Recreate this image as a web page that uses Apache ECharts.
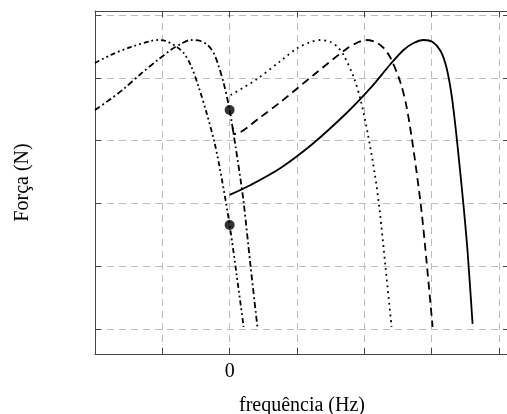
<!DOCTYPE html>
<html>
<head>
<meta charset="utf-8">
<script src="https://cdn.jsdelivr.net/npm/echarts@6/dist/echarts.min.js"></script>
<style>
html,body{margin:0;padding:0;background:#fff;}
#chart{width:507px;height:414px;}
</style>
</head>
<body>
<div id="chart"></div>
<script>
// ---- data (x in Hz units relative to grid, y in force units) ----
const solidX = [0, 0.312, 0.757, 1.248, 1.753, 2.094, 2.391, 2.584, 2.733, 2.881, 3.015, 3.134, 3.223, 3.297, 3.357, 3.416, 3.475, 3.535, 3.609];
const solidY = [2.134, 2.293, 2.564, 2.962, 3.455, 3.838, 4.220, 4.443, 4.554, 4.602, 4.570, 4.427, 4.156, 3.726, 3.201, 2.596, 1.959, 1.226, 0.080];

const dashedX = [0.045, 0.074, 0.460, 0.757, 1.248, 1.753, 1.916, 2.020, 2.168, 2.287, 2.391, 2.540, 2.629, 2.703, 2.777, 2.852, 2.926, 3.015];
const dashedY = [3.201, 3.105, 3.376, 3.615, 4.045, 4.475, 4.570, 4.602, 4.570, 4.475, 4.315, 3.917, 3.535, 3.057, 2.500, 1.863, 1.067, 0.032];

const dottedX = [0.015, 0.386, 0.757, 1.010, 1.203, 1.352, 1.500, 1.604, 1.693, 1.842, 1.946, 2.050, 2.154, 2.228, 2.317, 2.406];
const dottedY = [3.726, 3.965, 4.268, 4.475, 4.570, 4.602, 4.570, 4.490, 4.363, 4.013, 3.646, 3.121, 2.484, 1.895, 0.971, 0.032];

const dashDotDotX = [-2, -1.767, -1.470, -1.173, -1.069, -0.951, -0.802, -0.683, -0.579, -0.460, -0.342, -0.223, -0.119, 0, 0.104, 0.208];
const dashDotDotY = [4.236, 4.363, 4.490, 4.586, 4.602, 4.586, 4.506, 4.395, 4.204, 3.854, 3.439, 2.962, 2.404, 1.656, 0.860, 0.032];

const dashDotX = [-2, -1.767, -1.574, -1.322, -1.069, -0.876, -0.728, -0.579, -0.431, -0.327, -0.238, -0.178, -0.089, 0, 0.089, 0.163, 0.208, 0.312, 0.416];
const dashDotY = [3.487, 3.662, 3.822, 4.061, 4.283, 4.443, 4.538, 4.602, 4.586, 4.522, 4.395, 4.236, 3.917, 3.487, 2.898, 2.373, 2.022, 0.987, 0];

const markerX = [0, 0];
const markerY = [3.487, 1.656];

const xTickValues = [-2, -1, 0, 1, 2, 3, 4];
const xTickLabels = ['', '', '0', '', '', '', ''];
const yTickValues = [0, 1, 2, 3, 4, 5];

const xTitle = 'frequência (Hz)';
const yTitle = 'Força (N)';

// ---- build ----
function pairs(xs, ys){ return xs.map((x,i)=>[x, ys[i]]); }
const FONT = '"Liberation Serif", "Times New Roman", serif';
const GRIDCOL = '#bdbdbd';
const AXCOL = '#444';

function lineSeries(xs, ys, dash){
  return {
    type:'line', data:pairs(xs,ys), showSymbol:false, symbol:'none',
    smooth:0.3,
    lineStyle:{color:'#000', width:1.8, type:dash, cap:'butt'},
    xAxisIndex:0, yAxisIndex:0, z:3, animation:false
  };
}

const chart = echarts.init(document.getElementById('chart'), null, {renderer:'canvas'});
chart.setOption({
  animation:false,
  backgroundColor:'#fff',
  grid:{left:95, top:11, width:414, height:343, containLabel:false, outerBoundsMode:'none'},
  xAxis:[
    {type:'value', position:'bottom', min:-2, max:4.15,
     axisLine:{show:true, onZero:false, lineStyle:{color:AXCOL, width:1}},
     axisTick:{show:true, inside:true, length:6, lineStyle:{color:AXCOL}, customValues:xTickValues},
     axisLabel:{show:true, margin:8, color:'#000', fontFamily:FONT, fontSize:20, customValues:xTickValues,
       formatter:function(v){ const i = xTickValues.indexOf(v); return i>=0 ? xTickLabels[i] : ''; }},
     splitLine:{show:true, lineStyle:{color:GRIDCOL, type:[7,5], width:1}},
     name:xTitle, nameLocation:'middle', nameGap:42,
     nameTextStyle:{color:'#000', fontFamily:FONT, fontSize:20}},
    {type:'value', position:'top', min:-2, max:4.15,
     axisLine:{show:true, onZero:false, lineStyle:{color:AXCOL, width:1}},
     axisTick:{show:true, inside:true, length:6, lineStyle:{color:AXCOL}, customValues:xTickValues},
     axisLabel:{show:false, customValues:xTickValues}, splitLine:{show:false}}
  ],
  yAxis:[
    {type:'value', position:'left', min:-0.4, max:5.064,
     axisLine:{show:true, onZero:false, lineStyle:{color:AXCOL, width:1}},
     axisTick:{show:true, inside:true, length:6, lineStyle:{color:AXCOL}, customValues:yTickValues},
     axisLabel:{show:false, customValues:yTickValues},
     splitLine:{show:true, lineStyle:{color:GRIDCOL, type:[7,5], width:1}},
     name:yTitle, nameLocation:'middle', nameGap:62, nameRotate:90,
     nameTextStyle:{color:'#000', fontFamily:FONT, fontSize:20}},
    {type:'value', position:'right', min:-0.4, max:5.064,
     axisLine:{show:true, onZero:false, lineStyle:{color:AXCOL, width:1}},
     axisTick:{show:true, inside:true, length:6, lineStyle:{color:AXCOL}, customValues:yTickValues},
     axisLabel:{show:false, customValues:yTickValues}, splitLine:{show:false}}
  ],
  series:[
    lineSeries(solidX, solidY, 'solid'),
    lineSeries(dashedX, dashedY, [8,5]),
    lineSeries(dottedX, dottedY, [1.8,4]),
    lineSeries(dashDotDotX, dashDotDotY, [5,3,1.8,3,1.8,3]),
    lineSeries(dashDotX, dashDotY, [6,3,1.8,3]),
    {type:'scatter', data:pairs(markerX, markerY), symbol:'circle', symbolSize:10,
     itemStyle:{color:'#000'}, z:5, xAxisIndex:0, yAxisIndex:0, animation:false}
  ]
});
</script>
</body>
</html>
